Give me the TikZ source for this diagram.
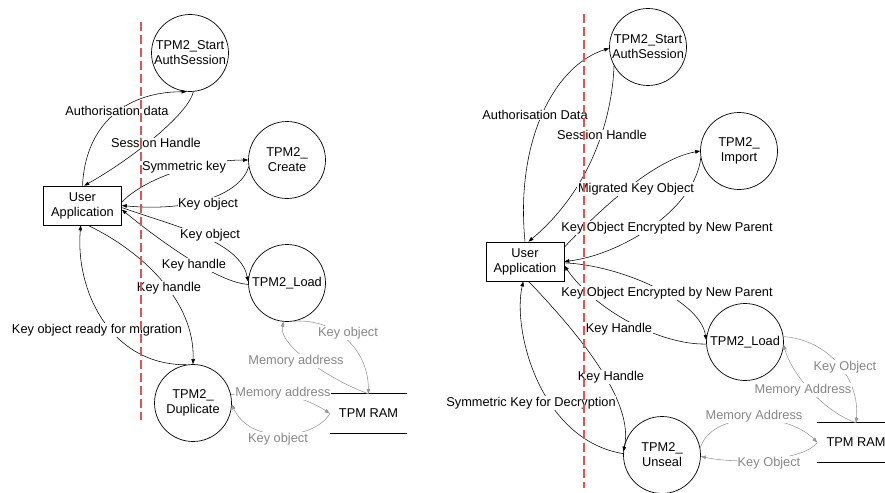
\documentclass[tikz,border=0pt]{standalone}
\usepackage{fontspec}
\setmainfont{Liberation Sans}
\usetikzlibrary{arrows.meta}
\definecolor{redline}{RGB}{222,85,85}
\definecolor{txtgray}{RGB}{135,135,135}
\definecolor{linegray}{RGB}{150,150,150}
\newcommand\dfdfont{\fontsize{12.8}{15}\selectfont}
\begin{document}
\begin{tikzpicture}[x=1pt,y=-1pt,
  proc/.style={circle, draw, line width=0.7pt, minimum size=77pt, inner sep=0pt, align=center, font=\dfdfont},
  app/.style={rectangle, draw, line width=0.7pt, minimum width=78pt, minimum height=39pt, inner sep=0pt, align=center, font=\dfdfont},
  store/.style={rectangle, minimum width=77pt, minimum height=39pt, inner sep=0pt, font=\dfdfont},
  storeline/.style={draw, line width=0.7pt},
  flow/.style={draw=black, line width=0.55pt, -{Triangle[length=5pt,width=3.6pt]}},
  gflow/.style={flow, draw=linegray},
  lbl/.style={fill=white, inner sep=0.6pt, font=\dfdfont},
  glbl/.style={lbl, text=txtgray},
  boundary/.style={draw=redline, line width=1.25pt, dash pattern=on 9pt off 4pt}]
\useasboundingbox (0,0) rectangle (885,492);
\coordinate (rEdge) at (885,0);

% ---------------- left diagram ----------------
\node[app]  (ua1) at (82.5,205.5) {User\\Application};
\node[proc] (sa1) at (190,53) {TPM2\_Start\\AuthSession};
\node[proc] (cr1) at (287,160) {TPM2\_\\Create};
\node[proc] (ld1) at (287,283) {TPM2\_Load};
\node[proc] (dp1) at (193,403) {TPM2\_\\Duplicate};
\node[store] (ram1) at (368.5,413.5) {TPM RAM};
\draw[storeline] (ram1.north west) -- (ram1.north east) (ram1.south west) -- (ram1.south east);

\draw[flow] (ua1.north) .. controls (85,130) and (120,92) .. (sa1.265);
\draw[flow] (sa1.275) .. controls (188,115) and (130,160) .. (ua1.85);
\draw[flow] (ua1.5) .. controls (145,178) and (200,160) .. (cr1.west);
\draw[flow] (cr1.190) .. controls (240,195) and (190,212) .. (ua1.0);
\draw[flow] (ua1.-3) .. controls (170,225) and (240,240) .. (ld1.178);
\draw[flow] (ld1.182) .. controls (220,283) and (165,245) .. (ua1.-6);
\draw[flow] (ua1.-75) .. controls (140,250) and (195,300) .. (dp1.north);
\draw[flow] (dp1.100) .. controls (110,365) and (75,290) .. (ua1.-95);
\draw[gflow] (ld1.-80) .. controls (330,318) and (368,345) .. (ram1.north);
\draw[gflow] (ram1.north) .. controls (330,380) and (278,345) .. (ld1.-95);
\draw[gflow] (dp1.12) .. controls (270,385) and (310,400) .. (ram1.west);
\draw[gflow] (ram1.west) .. controls (315,440) and (250,445) .. (dp1.-2);

\node[lbl] (l1)  at (117,111) {Authorisation data};
\node[lbl] (l2)  at (156,143) {Session Handle};
\node[lbl] (l3)  at (184,167) {Symmetric key};
\node[lbl] (l4)  at (208,204) {Key object};
\node[lbl] (l5)  at (210,235) {Key object};
\node[lbl] (l6)  at (194,265) {Key handle};
\node[lbl] (l7)  at (169,288) {Key handle};
\node[lbl] (l8)  at (97,330) {Key object ready for migration};
\node[glbl] (l9)  at (348,333) {Key object};
\node[glbl] (l10) at (296,361) {Memory address};
\node[glbl] (l11) at (283,393) {Memory address};
\node[glbl] (l12) at (278,439) {Key object};

% ---------------- right diagram ----------------
\node[app]  (ua2) at (525,261.5) {User\\Application};
\node[proc] (sa2) at (648,47) {TPM2\_Start\\AuthSession};
\node[proc] (im2) at (739,151) {TPM2\_\\Import};
\node[proc] (ld2) at (745,342) {TPM2\_Load};
\node[proc] (us2) at (662,455) {TPM2\_\\Unseal};
\node[store] (ram2) at (856,442.5) {TPM RAM};
\draw[storeline] (ram2.north west) -- (ram2.north west -| rEdge) (ram2.south west) -- (ram2.south west -| rEdge);

\draw[flow] (ua2.north) .. controls (515,140) and (555,65) .. (sa2.182);
\draw[flow] (sa2.209) .. controls (612,120) and (590,190) .. (ua2.80);
\draw[flow] (ua2.20) .. controls (590,220) and (650,160) .. (im2.west);
\draw[flow] (im2.190) .. controls (695,210) and (620,255) .. (ua2.east);
\draw[flow] (ua2.-2) .. controls (620,265) and (700,300) .. (ld2.177);
\draw[flow] (ld2.183) .. controls (660,345) and (595,310) .. (ua2.-6);
\draw[flow] (ua2.-80) .. controls (575,330) and (635,400) .. (us2.175);
\draw[flow] (us2.178) .. controls (540,440) and (512,330) .. (ua2.-95);
\draw[gflow] (ld2.8) .. controls (830,340) and (860,380) .. (ram2.north);
\draw[gflow] (ram2.north) .. controls (820,410) and (790,370) .. (ld2.-4);
\draw[gflow] (us2.10) .. controls (710,412) and (785,410) .. (ram2.west);
\draw[gflow] (ram2.west) .. controls (805,460) and (740,465) .. (us2.-2);

\node[lbl] (r1)  at (535,115) {Authorisation Data};
\node[lbl] (r2)  at (602,135) {Session Handle};
\node[lbl] (r3)  at (636,189) {Migrated Key Object};
\node[lbl] (r4)  at (667,228) {Key Object Encrypted by New Parent};
\node[lbl] (r5)  at (667,293) {Key Object Encrypted by New Parent};
\node[lbl] (r6)  at (619,329) {Key Handle};
\node[lbl] (r7)  at (611,377) {Key Handle};
\node[lbl] (r8)  at (531,403) {Symmetric Key for Decryption};
\node[glbl] (r9)  at (845,367) {Key Object};
\node[glbl] (r10) at (803,390) {Memory Address};
\node[glbl] (r11) at (754,416) {Memory Address};
\node[glbl] (r12) at (769,463) {Key Object};

% ---------------- trust boundaries ----------------
\coordinate (bL1) at (141,22);
\coordinate (bL2) at (141,420);
\coordinate (bR1) at (584,14);
\coordinate (bR2) at (584,488);
\draw[boundary] (bL1) -- (bL2) (bR1) -- (bR2);
\end{tikzpicture}
\end{document}
